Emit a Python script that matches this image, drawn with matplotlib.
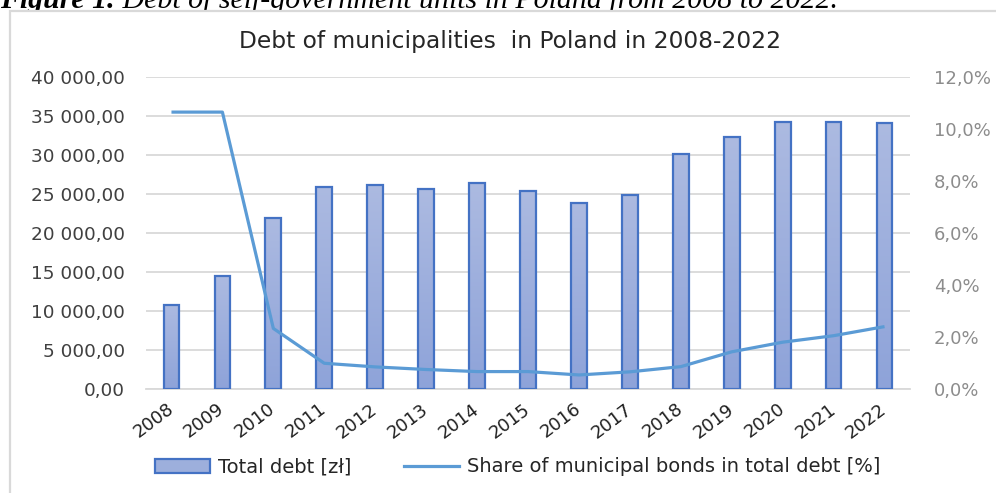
import matplotlib
matplotlib.use("Agg")
import matplotlib.pyplot as plt
import numpy as np
from matplotlib.patches import Rectangle
from matplotlib.lines import Line2D
from matplotlib.colors import LinearSegmentedColormap
from matplotlib.ticker import FuncFormatter, MultipleLocator

years = ["2008", "2009", "2010", "2011", "2012", "2013", "2014", "2015",
         "2016", "2017", "2018", "2019", "2020", "2021", "2022"]
total_debt = [10800, 14500, 21900, 25900, 26200, 25700, 26400, 25400,
              23800, 24900, 30100, 32300, 34200, 34200, 34100]
bond_share = [10.65, 10.65, 2.33, 0.99, 0.85, 0.75, 0.67, 0.67,
              0.54, 0.66, 0.86, 1.43, 1.80, 2.05, 2.40]

title = "Debt of municipalities  in Poland in 2008-2022"
caption_bold = "Figure 1."
caption_rest = " Debt of self-government units in Poland from 2008 to 2022."
bar_label = "Total debt [zł]"
line_label = "Share of municipal bonds in total debt [%]"

W, H = 996, 493
fig = plt.figure(figsize=(W / 100, H / 100), dpi=100)
fig.patch.set_facecolor("white")

# chart frame
frame = Rectangle((10 / W, -0.1), 1.0, (H - 11) / H + 0.1, transform=fig.transFigure,
                  facecolor="white", edgecolor="#d9d9d9", lw=1.6, zorder=-2)
fig.patches.append(frame)

# caption (clipped at top of the image, as in the source screenshot)
cap_y = 1 - 8 / H
t1 = fig.text(0.0, cap_y, caption_bold, fontsize=21.5, family="Liberation Serif",
              style="italic", weight="bold", va="baseline", ha="left", zorder=-3)
fig.canvas.draw()
bb = t1.get_window_extent()
fig.text(bb.x1 / W, cap_y, caption_rest, fontsize=21.5, family="Liberation Serif",
         style="italic", va="baseline", ha="left", zorder=-3)

# chart title
fig.text(510 / W, 1 - 48 / H, title, fontsize=16.8, color="#262626",
         ha="center", va="baseline")

ax = fig.add_axes([146 / W, 1 - 389 / H, (910 - 146) / W, (389 - 77) / H])
ax.set_facecolor("none")
x = np.arange(len(years))
bars = ax.bar(x, total_debt, width=0.31, facecolor="none", edgecolor="#4472c4",
              linewidth=1.6, zorder=3)
cmap = LinearSegmentedColormap.from_list("g", ["#8ea3d9", "#acbae1"])
grad = np.linspace(0, 1, 256).reshape(-1, 1)
for p in bars.patches:
    bx, by, bw, bh = p.get_x(), p.get_y(), p.get_width(), p.get_height()
    im = ax.imshow(grad, extent=[bx, bx + bw, by, by + bh], origin="lower",
                   aspect="auto", cmap=cmap, zorder=2, interpolation="bilinear")
    im.set_clip_path(p)

ax.set_xlim(-0.5, len(years) - 0.5)
ax.set_ylim(0, 40000)
ax.yaxis.set_major_locator(MultipleLocator(5000))
ax.yaxis.set_major_formatter(FuncFormatter(
    lambda v, p: f"{v:,.2f}".replace(",", " ").replace(".", ",")))
ax.grid(axis="y", color="#d9d9d9", lw=1.3, zorder=0)
ax.set_axisbelow(True)
for s in ["top", "right", "left"]:
    ax.spines[s].set_visible(False)
ax.spines["bottom"].set_color("#d9d9d9")
ax.spines["bottom"].set_linewidth(1.3)
ax.tick_params(axis="y", length=0, pad=15, labelsize=13.3, labelcolor="#404040")
ax.tick_params(axis="x", length=0, pad=13, labelsize=13, labelcolor="#202020")
ax.set_xticks(x)
ax.set_xticklabels(years, rotation=37, ha="right", va="center",
                   rotation_mode="anchor")

ax2 = ax.twinx()
ax2.plot(x, bond_share, color="#5b9bd5", lw=2.3, solid_capstyle="butt", zorder=4)
ax2.set_ylim(0, 12)
ax2.yaxis.set_major_locator(MultipleLocator(2))
ax2.yaxis.set_major_formatter(FuncFormatter(lambda v, p: f"{v:.1f}%".replace(".", ",")))
for s in ax2.spines.values():
    s.set_visible(False)
ax2.tick_params(axis="y", length=0, pad=17, labelsize=13, labelcolor="#8c8c8c")

handles = [Rectangle((0, 0), 1, 1, facecolor="#9dafdc", edgecolor="#4472c4", lw=1.6),
           Line2D([], [], color="#5b9bd5", lw=2.3)]
fig.legend(handles, [bar_label, line_label], loc="center",
           bbox_to_anchor=(0.52, 1 - 467 / H), ncol=2, frameon=False,
           fontsize=14, handlelength=2.8, handleheight=0.7, handletextpad=0.45,
           columnspacing=2.7, labelcolor="#262626")

fig.savefig("out.png", dpi=100, facecolor="white")
